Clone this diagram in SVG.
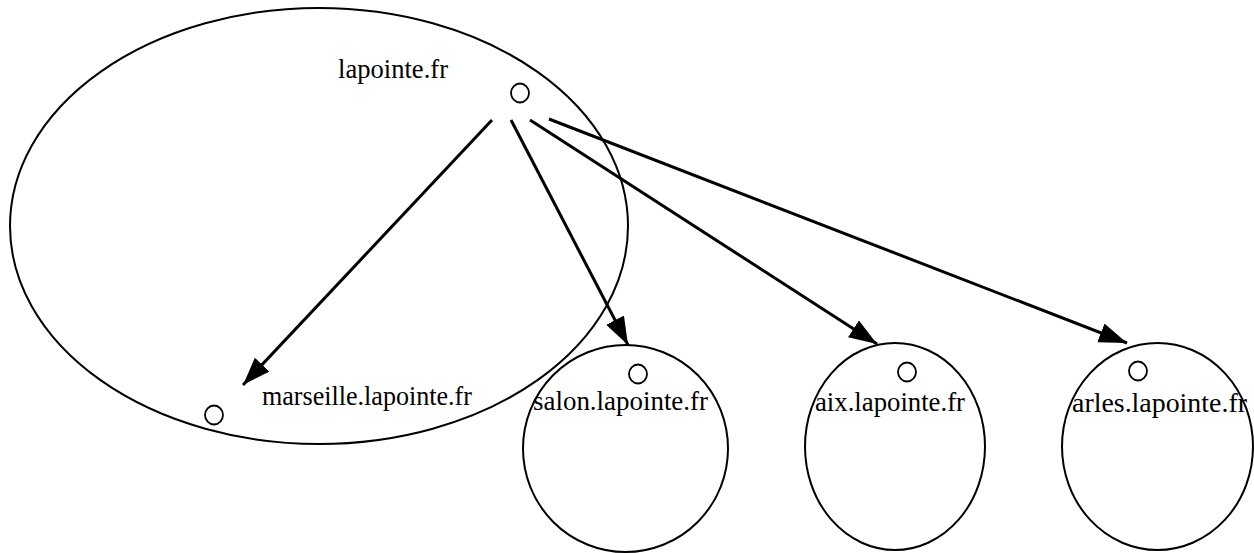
<svg xmlns="http://www.w3.org/2000/svg" width="1254" height="553" viewBox="0 0 1254 553">
<style>
.dom{fill:none;stroke:#000;stroke-width:2}
.pt{fill:none;stroke:#000;stroke-width:1.8}
.lbl{font-family:"Liberation Serif","Times New Roman",serif;font-size:27px;fill:#000}
.edge{stroke:#000;stroke-width:3;fill:none}
</style>
<defs>
<marker id="ah" markerUnits="userSpaceOnUse" markerWidth="30" markerHeight="22" refX="28" refY="10" orient="auto">
<path d="M0,0 L28,10 L0,20 z" fill="#000"/>
</marker>
</defs>
<g id="lapointe">
<ellipse class="dom" cx="319" cy="226" rx="309" ry="218"/>
<ellipse class="pt" cx="520" cy="93" rx="9" ry="9.5"/>
<text class="lbl" x="338" y="78" textLength="110" lengthAdjust="spacingAndGlyphs">lapointe.fr</text>
</g>
<g id="marseille">
<ellipse class="pt" cx="214" cy="415" rx="9" ry="9.5"/>
<text class="lbl" x="262" y="405" textLength="210" lengthAdjust="spacingAndGlyphs">marseille.lapointe.fr</text>
</g>
<g id="salon">
<ellipse class="dom" cx="625.5" cy="448.5" rx="102.5" ry="103.5"/>
<ellipse class="pt" cx="638" cy="374" rx="9" ry="9.5"/>
<text class="lbl" x="533" y="410" textLength="175" lengthAdjust="spacingAndGlyphs">salon.lapointe.fr</text>
</g>
<g id="aix">
<ellipse class="dom" cx="895" cy="446.5" rx="90" ry="103.5"/>
<ellipse class="pt" cx="907" cy="372" rx="9" ry="9.5"/>
<text class="lbl" x="815" y="411" textLength="150" lengthAdjust="spacingAndGlyphs">aix.lapointe.fr</text>
</g>
<g id="arles">
<ellipse class="dom" cx="1157.5" cy="446.5" rx="95.5" ry="103.5"/>
<ellipse class="pt" cx="1138" cy="371" rx="9" ry="9.5"/>
<text class="lbl" x="1072" y="412" textLength="175" lengthAdjust="spacingAndGlyphs">arles.lapointe.fr</text>
</g>
<g id="connectors">
<line class="edge" x1="492" y1="120" x2="243" y2="385" marker-end="url(#ah)"/>
<line class="edge" x1="511" y1="120" x2="628" y2="345" marker-end="url(#ah)"/>
<line class="edge" x1="530" y1="120" x2="877" y2="344" marker-end="url(#ah)"/>
<line class="edge" x1="549" y1="119" x2="1127" y2="343" marker-end="url(#ah)"/>
</g>
</svg>
